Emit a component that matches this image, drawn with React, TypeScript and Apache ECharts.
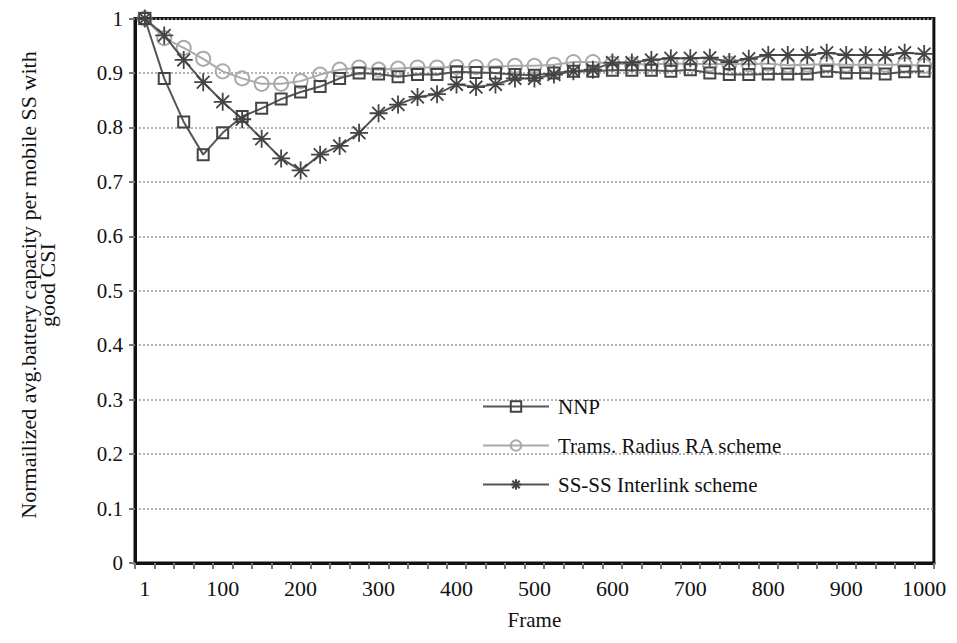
import React, { useEffect, useRef } from "react";
import * as echarts from "echarts";

const frames = [
  "1", "25", "50", "75", "100", "125", "150", "175", "200", "225",
  "250", "275", "300", "325", "350", "375", "400", "425", "450", "475",
  "500", "525", "550", "575", "600", "625", "650", "675", "700", "725",
  "750", "775", "800", "825", "850", "875", "900", "925", "950", "975", "1000",
];

const nnp = [
  1.0, 0.89, 0.81, 0.75, 0.79, 0.82, 0.835, 0.852, 0.865, 0.875,
  0.89, 0.9, 0.898, 0.893, 0.897, 0.897, 0.902, 0.901, 0.9, 0.897,
  0.896, 0.9, 0.903, 0.903, 0.905, 0.905, 0.905, 0.903, 0.906, 0.9,
  0.897, 0.897, 0.898, 0.898, 0.898, 0.903, 0.9, 0.9, 0.898, 0.902, 0.903,
];

const trams = [
  1.0, 0.964, 0.946, 0.926, 0.903, 0.89, 0.88, 0.88, 0.885, 0.897,
  0.906, 0.91, 0.906, 0.908, 0.91, 0.91, 0.911, 0.911, 0.912, 0.913,
  0.913, 0.915, 0.92, 0.92, 0.917, 0.916, 0.916, 0.917, 0.917, 0.916,
  0.917, 0.916, 0.917, 0.914, 0.915, 0.916, 0.915, 0.915, 0.915, 0.915, 0.913,
];

const interlink = [
  1.0, 0.969, 0.924, 0.883, 0.847, 0.815, 0.779, 0.743, 0.721, 0.75,
  0.766, 0.79, 0.826, 0.842, 0.856, 0.861, 0.879, 0.874, 0.879, 0.89,
  0.89, 0.897, 0.903, 0.906, 0.919, 0.919, 0.924, 0.927, 0.927, 0.928,
  0.92, 0.926, 0.933, 0.933, 0.933, 0.937, 0.933, 0.933, 0.933, 0.937, 0.935,
];

const yTicks = [0, 0.1, 0.2, 0.3, 0.4, 0.5, 0.6, 0.7, 0.8, 0.9, 1];

const seriesNames = ["NNP", "Trams. Radius RA scheme", "SS-SS Interlink scheme"];
const yName = "Normailized avg.battery capacity per mobile SS with\ngood CSI";

const FONT = "'Liberation Serif', 'Times New Roman', serif";
const ASTERISK = "path://M10,0L10,20M0,10L20,10M2.93,2.93L17.07,17.07M2.93,17.07L17.07,2.93";

export default function App() {
  const ref = useRef<HTMLDivElement>(null);
  useEffect(() => {
    if (!ref.current) return;
    const chart = echarts.init(ref.current, undefined, { renderer: "svg" });
    chart.setOption({
      animation: false,
      backgroundColor: "#fff",
      textStyle: { fontFamily: FONT },
      grid: {
        left: 127,
        right: 3,
        top: 8,
        bottom: 59,
        show: true,
        borderColor: "#111",
        borderWidth: 3,
        backgroundColor: "transparent",
      },
      graphic: [
        {
          type: "text",
          x: 30,
          y: 277,
          rotation: Math.PI / 2,
          style: {
            text: yName,
            align: "center",
            verticalAlign: "middle",
            fontFamily: FONT,
            fontSize: 22,
            lineHeight: 19,
            fill: "#111",
          },
        },
      ],
      legend: {
        orient: "vertical",
        left: 469,
        top: 383,
        itemWidth: 66,
        itemHeight: 13,
        itemGap: 18,
        data: seriesNames,
        textStyle: { fontFamily: FONT, fontSize: 21, color: "#111", padding: [0, 0, 0, 4] },
      },
      xAxis: {
        type: "category",
        data: frames,
        boundaryGap: true,
        name: "Frame",
        nameLocation: "middle",
        nameGap: 46,
        nameTextStyle: { fontFamily: FONT, fontSize: 21, color: "#111" },
        axisLine: { show: true, lineStyle: { color: "#111", width: 3 } },
        axisTick: { show: true, interval: 0, length: 6, lineStyle: { color: "#777", width: 2 } },
        axisLabel: { interval: 3, fontFamily: FONT, fontSize: 22, color: "#111", margin: 14 },
        splitLine: { show: false },
      },
      yAxis: {
        type: "value",
        min: 0,
        max: 1,
        interval: 0.1,
        axisLine: { show: true, lineStyle: { color: "#111", width: 3 } },
        axisTick: { show: true, length: 6, lineStyle: { color: "#777", width: 2 } },
        axisLabel: {
          fontFamily: FONT,
          fontSize: 21,
          color: "#111",
          margin: 12,
          formatter: (v: number) => {
            const m = yTicks.find((t) => Math.abs(t - v) < 1e-6);
            return String(m !== undefined ? m : v);
          },
        },
        splitLine: {
          show: true,
          lineStyle: { color: "#999", width: 1.5, type: [2, 2] },
        },
      },
      series: [
        {
          name: seriesNames[1],
          type: "line",
          data: trams,
          symbol: "circle",
          symbolSize: 14,
          showAllSymbol: true,
          lineStyle: { color: "#aaa", width: 2 },
          itemStyle: { color: "rgba(255,255,255,0)", borderColor: "#aaa", borderWidth: 2 },
          z: 2,
        },
        {
          name: seriesNames[0],
          type: "line",
          data: nnp,
          symbol: "rect",
          symbolSize: 11,
          showAllSymbol: true,
          lineStyle: { color: "#555", width: 2 },
          itemStyle: { color: "rgba(255,255,255,0)", borderColor: "#444", borderWidth: 2 },
          z: 3,
        },
        {
          name: seriesNames[2],
          type: "line",
          data: interlink,
          symbol: ASTERISK,
          symbolSize: 18,
          showAllSymbol: true,
          lineStyle: { color: "#555", width: 2 },
          itemStyle: { color: "rgba(0,0,0,0)", borderColor: "#444", borderWidth: 1.8 },
          z: 4,
        },
      ],
    });
    return () => chart.dispose();
  }, []);
  return <div ref={ref} style={{ width: 941, height: 627 }} />;
}
